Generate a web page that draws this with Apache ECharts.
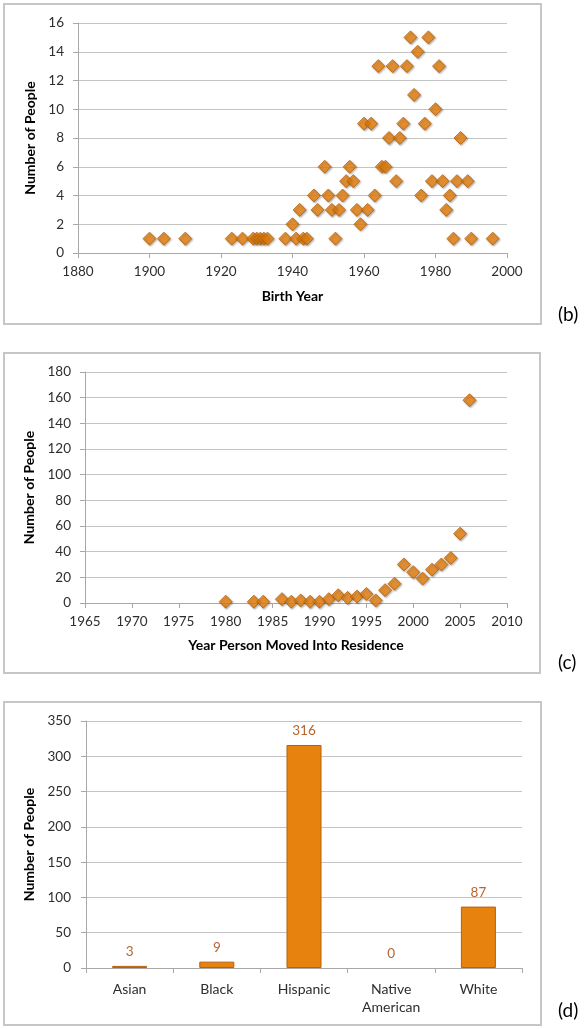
<!DOCTYPE html>
<html>
<head>
<meta charset="utf-8">
<script src="https://cdn.jsdelivr.net/npm/echarts@6/dist/echarts.min.js"></script>
<style>
html,body{margin:0;padding:0;background:#fff;}
#chart{width:585px;height:1029px;}
</style>
</head>
<body>
<div id="chart"></div>
<script>
// (b) Birth year
const birthYear  = [1900,1904,1910,1923,1926,1929,1930,1931,1932,1933,1938,1940,1941,1942,1943,1944,1946,1947,1949,1950,1951,1952,1953,1954,1955,1956,1957,1958,1959,1960,1961,1962,1963,1964,1965,1966,1967,1968,1969,1970,1971,1972,1973,1974,1975,1976,1977,1978,1979,1980,1981,1982,1983,1984,1985,1986,1987,1989,1990,1996];
const birthCount = [1,1,1,1,1,1,1,1,1,1,1,2,1,3,1,1,4,3,6,4,3,1,3,4,5,6,5,3,2,9,3,9,4,13,6,6,8,13,5,8,9,13,15,11,14,4,9,15,5,10,13,5,3,4,1,5,8,5,1,1];
// (c) Year moved into residence
const moveYear  = [1980,1983,1984,1986,1987,1988,1989,1990,1991,1992,1993,1994,1995,1996,1997,1998,1999,2000,2001,2002,2003,2004,2005,2006];
const moveCount = [1,1,1,3,1,2,1,1,3,6,4,5,7,2,10,15,30,24,19,26,30,35,54,158];
// (d) Race
const raceCategories = ['Asian','Black','Hispanic','Native American','White'];
const raceCounts = [3,9,316,0,87];

const FONT = 'Lato';
const FS = 13.5;
const ORANGE = '#E8820E';
const ORANGE_BORDER = '#B8600A';
const GRID = '#c4c4c4';
const AXIS = '#a8a8a8';
const TICKTXT = '#2e2e2e';

function lbl(extra){
  return Object.assign({color:TICKTXT,fontFamily:FONT,fontSize:FS,formatter:v=>String(v)}, extra);
}
function valueAxis(extra){
  return Object.assign({
    type:'value',
    axisLine:{show:true,lineStyle:{color:AXIS,width:1}},
    axisTick:{show:true,length:5,lineStyle:{color:AXIS}},
    splitLine:{show:true,lineStyle:{color:GRID,width:1}},
    nameLocation:'middle',
    nameTextStyle:{color:'#000',fontFamily:FONT,fontSize:14,fontWeight:'bold'}
  }, extra);
}

const scatterStyle = {
  color:ORANGE, borderColor:ORANGE_BORDER, borderWidth:1,
  shadowBlur:2, shadowColor:'rgba(0,0,0,0.35)', shadowOffsetX:1, shadowOffsetY:1
};

const chart = echarts.init(document.getElementById('chart'), null, {renderer:'canvas'});
chart.setOption({
  animation:false,
  backgroundColor:'#fff',
  grid:[
    {left:78, top:23, width:429, height:230},
    {left:85, top:372, width:422, height:231},
    {left:86, top:721, width:436, height:247}
  ],
  xAxis:[
    valueAxis({gridIndex:0,min:1880,max:2000,interval:20,splitLine:{show:false},
      axisLabel:lbl({margin:12}),name:'Birth Year',nameGap:36}),
    valueAxis({gridIndex:1,min:1965,max:2010,interval:5,splitLine:{show:false},
      axisLabel:lbl({margin:12}),name:'Year Person Moved Into Residence',nameGap:35}),
    {type:'category',gridIndex:2,data:raceCategories,
      axisLine:{show:true,lineStyle:{color:AXIS}},
      axisTick:{show:true,length:5,lineStyle:{color:AXIS}},
      axisLabel:{color:TICKTXT,fontFamily:FONT,fontSize:14,margin:12,lineHeight:18,
        formatter:v=>v.replace(' ','\n')}}
  ],
  yAxis:[
    valueAxis({gridIndex:0,min:0,max:16,interval:2,axisLabel:lbl({margin:14}),
      name:'Number of People',nameGap:35}),
    valueAxis({gridIndex:1,min:0,max:180,interval:20,axisLabel:lbl({margin:14}),
      name:'Number of People',nameGap:42}),
    valueAxis({gridIndex:2,min:0,max:350,interval:50,axisLabel:lbl({margin:15}),
      name:'Number of People',nameGap:43})
  ],
  series:[
    {type:'scatter',xAxisIndex:0,yAxisIndex:0,symbol:'diamond',symbolSize:13,
      itemStyle:scatterStyle,
      data:birthYear.map((y,i)=>[y,birthCount[i]])},
    {type:'scatter',xAxisIndex:1,yAxisIndex:1,symbol:'diamond',symbolSize:13,
      itemStyle:scatterStyle,
      data:moveYear.map((y,i)=>[y,moveCount[i]])},
    {type:'bar',xAxisIndex:2,yAxisIndex:2,barWidth:35,
      itemStyle:{color:ORANGE,borderColor:ORANGE_BORDER,borderWidth:1},
      label:{show:true,position:'top',distance:7,color:'#B8652E',fontFamily:FONT,fontSize:FS},
      data:raceCounts.map(v=>v===0?{value:v,itemStyle:{borderWidth:0}}:v)}
  ],
  graphic:[
    {type:'rect',shape:{x:4,y:4,width:537,height:320},style:{fill:null,stroke:'#c6c6c6',lineWidth:2},z:-1},
    {type:'rect',shape:{x:4,y:353,width:536,height:320},style:{fill:null,stroke:'#c6c6c6',lineWidth:2},z:-1},
    {type:'rect',shape:{x:4,y:702,width:537,height:323},style:{fill:null,stroke:'#c6c6c6',lineWidth:2},z:-1},
    {type:'text',left:558,top:305,style:{text:'(b)',fontFamily:FONT,fontSize:19,fill:'#000'}},
    {type:'text',left:558,top:653,style:{text:'(c)',fontFamily:FONT,fontSize:19,fill:'#000'}},
    {type:'text',left:558,top:1001,style:{text:'(d)',fontFamily:FONT,fontSize:19,fill:'#000'}}
  ]
});
</script>
</body>
</html>
